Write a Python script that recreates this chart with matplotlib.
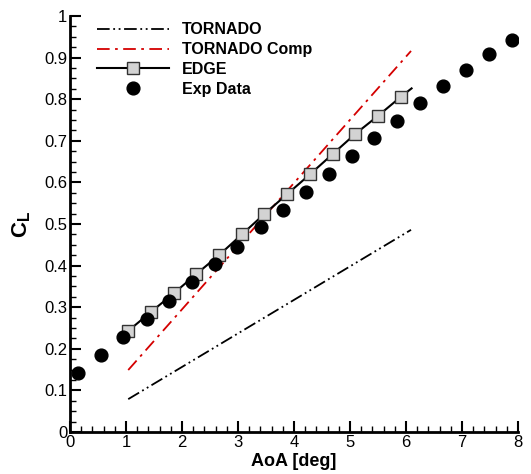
import matplotlib.pyplot as plt
from matplotlib.ticker import MultipleLocator, FormatStrFormatter

# === DATA ===
tornado_aoa = [1.04, 6.09]
tornado_cl = [0.079, 0.486]

tornado_comp_aoa = [1.04, 6.09]
tornado_comp_cl = [0.149, 0.916]

edge_aoa = [1.04, 1.44, 1.85, 2.25, 2.66, 3.07, 3.47, 3.88, 4.29, 4.69, 5.09, 5.50, 5.91, 6.10]
edge_cl = [0.243, 0.288, 0.333, 0.379, 0.425, 0.475, 0.524, 0.572, 0.620, 0.668, 0.716, 0.760, 0.806, 0.826]

exp_aoa = [0.15, 0.55, 0.95, 1.37, 1.77, 2.18, 2.59, 2.99, 3.41, 3.81,
           4.21, 4.62, 5.03, 5.43, 5.84, 6.25, 6.66, 7.07, 7.48, 7.89]
exp_cl = [0.142, 0.184, 0.229, 0.272, 0.316, 0.360, 0.403, 0.445, 0.493, 0.534,
          0.577, 0.620, 0.663, 0.707, 0.748, 0.790, 0.832, 0.870, 0.909, 0.942]

plt.rcParams['font.family'] = ['Liberation Sans', 'DejaVu Sans']
plt.rcParams['mathtext.fontset'] = 'custom'
plt.rcParams['mathtext.bf'] = 'Liberation Sans:bold'
plt.rcParams['mathtext.rm'] = 'Liberation Sans'

fig = plt.figure(figsize=(5.31, 4.74), dpi=100)
ax = fig.add_axes([0.1318, 0.0886, 0.8437, 0.8776])

ax.plot(tornado_aoa, tornado_cl, color='black', lw=1.3,
        dashes=(7, 2, 1, 2, 1, 2), label='TORNADO')
ax.plot(tornado_comp_aoa, tornado_comp_cl, color='#d40000', lw=1.3,
        dashes=(7, 3, 1.5, 3), label='TORNADO Comp')
ax.plot(edge_aoa, edge_cl, color='black', lw=1.5, marker='s', ms=8.8,
        mfc='#d3d3d3', mec='#333333', mew=1.0,
        markevery=list(range(len(edge_aoa) - 1)), label='EDGE')
ax.plot(exp_aoa, exp_cl, 'o', color='black', ms=9.2, label='Exp Data')

ax.set_xlim(0, 8)
ax.set_ylim(0, 1)
ax.xaxis.set_major_locator(MultipleLocator(1))
ax.xaxis.set_minor_locator(MultipleLocator(0.2))
ax.yaxis.set_major_locator(MultipleLocator(0.1))
ax.yaxis.set_minor_locator(MultipleLocator(0.025))
ax.yaxis.set_major_formatter(FormatStrFormatter('%g'))
ax.xaxis.set_major_formatter(FormatStrFormatter('%g'))

ax.spines['top'].set_visible(False)
ax.spines['right'].set_visible(False)
ax.spines['left'].set_linewidth(2)
ax.spines['bottom'].set_linewidth(2)
ax.tick_params(which='major', direction='in', length=8, width=1.5,
               labelsize=12, pad=2)
ax.tick_params(which='minor', direction='in', length=4, width=1)

ax.set_xlabel('AoA [deg]', fontsize=13, fontweight='bold', labelpad=2)
ax.set_ylabel(r'$\mathbf{C_L}$', fontsize=16, labelpad=8)

leg = ax.legend(loc='upper left', bbox_to_anchor=(0.047, 1.0), frameon=False,
                borderaxespad=0, handlelength=4.5, handletextpad=0.8,
                labelspacing=0.3, prop={'weight': 'bold', 'size': 11.5})

fig.savefig('out.png', dpi=100)
